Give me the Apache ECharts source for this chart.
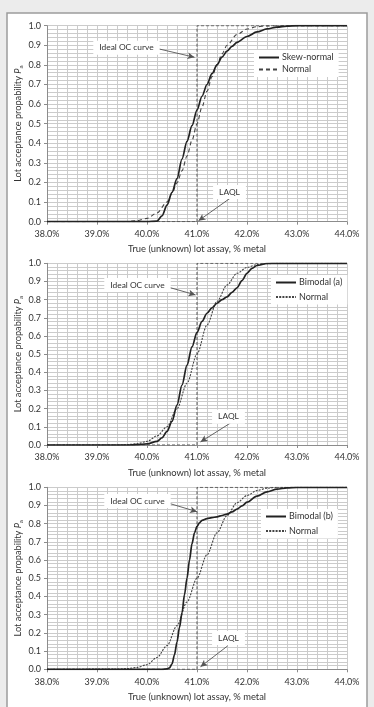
<!DOCTYPE html>
<html>
<head>
<meta charset="utf-8">
<style>
	html, body { margin: 0; padding: 0; background: #ececec; }
	#chart { width: 374px; height: 707px; }
</style>
<script src="https://cdn.jsdelivr.net/npm/echarts@6/dist/echarts.min.js"></script>
</head>
<body>
<div id="chart"></div>
<script type="text/javascript">
	// 横轴刻度 (% metal)
	var assayTicks = [38, 39, 40, 41, 42, 43, 44];
	var probTicks = [0, 0.1, 0.2, 0.3, 0.4, 0.5, 0.6, 0.7, 0.8, 0.9, 1.0];

	// 理想 OC 曲线 (LAQL = 41.0%)
	var idealX = [38, 41, 41, 44];
	var idealP = [0, 0, 1, 1];

	// 面板 1：Skew-normal / Normal
	var skewX = [38.0, 40.0, 40.2, 40.3, 40.4, 40.5, 40.6, 40.7, 40.8, 40.9, 41.0, 41.1, 41.2, 41.3, 41.4, 41.5, 41.6, 41.7, 41.8, 42.0, 42.2, 42.4, 42.6, 42.8, 43.0, 44.0];
	var skewP = [0, 0, 0.003, 0.03, 0.085, 0.15, 0.22, 0.32, 0.41, 0.49, 0.57, 0.64, 0.70, 0.755, 0.80, 0.84, 0.87, 0.895, 0.915, 0.945, 0.968, 0.984, 0.993, 0.998, 1, 1];
	var norm1X = [38.0, 39.6, 39.8, 40.0, 40.2, 40.4, 40.5, 40.6, 40.7, 40.8, 40.9, 41.0, 41.1, 41.2, 41.3, 41.4, 41.5, 41.6, 41.8, 42.0, 42.2, 42.4, 42.6, 44.0];
	var norm1P = [0, 0.001, 0.005, 0.017, 0.045, 0.10, 0.144, 0.198, 0.26, 0.335, 0.415, 0.50, 0.585, 0.665, 0.74, 0.80, 0.856, 0.90, 0.955, 0.983, 0.995, 0.999, 1, 1];

	// 面板 2：Bimodal (a) / Normal
	var bimAX = [38.0, 39.6, 39.8, 40.0, 40.2, 40.3, 40.4, 40.5, 40.6, 40.7, 40.8, 40.9, 41.0, 41.1, 41.2, 41.3, 41.4, 41.5, 41.6, 41.7, 41.8, 41.9, 42.0, 42.1, 42.2, 42.4, 42.6, 44.0];
	var bimAP = [0, 0, 0.002, 0.006, 0.02, 0.04, 0.075, 0.13, 0.22, 0.33, 0.44, 0.54, 0.62, 0.68, 0.725, 0.755, 0.78, 0.80, 0.815, 0.84, 0.865, 0.905, 0.945, 0.972, 0.988, 0.999, 1, 1];
	var norm2X = [38.0, 39.4, 39.6, 39.8, 40.0, 40.2, 40.4, 40.6, 40.8, 41.0, 41.2, 41.4, 41.6, 41.8, 42.0, 42.2, 42.4, 42.6, 44.0];
	var norm2P = [0, 0, 0.002, 0.007, 0.02, 0.05, 0.10, 0.20, 0.34, 0.50, 0.66, 0.79, 0.88, 0.945, 0.977, 0.993, 0.998, 1, 1];

	// 面板 3：Bimodal (b) / Normal
	var bimBX = [38.0, 40.3, 40.4, 40.45, 40.5, 40.55, 40.6, 40.65, 40.7, 40.75, 40.8, 40.85, 40.9, 40.95, 41.0, 41.05, 41.1, 41.2, 41.3, 41.4, 41.5, 41.6, 41.7, 41.8, 41.9, 42.0, 42.2, 42.4, 42.6, 42.8, 43.0, 44.0];
	var bimBP = [0, 0, 0.002, 0.008, 0.03, 0.08, 0.15, 0.23, 0.31, 0.41, 0.50, 0.60, 0.69, 0.75, 0.785, 0.805, 0.818, 0.828, 0.833, 0.838, 0.845, 0.853, 0.865, 0.88, 0.898, 0.918, 0.952, 0.975, 0.99, 0.997, 1, 1];
	var norm3X = [38.0, 39.4, 39.6, 39.8, 40.0, 40.2, 40.4, 40.6, 40.8, 41.0, 41.2, 41.4, 41.6, 41.8, 42.0, 42.2, 42.4, 42.6, 44.0];
	var norm3P = [0, 0.001, 0.004, 0.01, 0.025, 0.065, 0.13, 0.24, 0.37, 0.50, 0.63, 0.75, 0.845, 0.915, 0.955, 0.982, 0.995, 1, 1];

	function zip(xs, ys) {
		return xs.map(function (x, i) { return [x, ys[i]]; });
	}

	var font = 'Lato, "Open Sans", sans-serif';

	// 每个面板的布局与注释
	var panels = [
		{ top: 25.7, height: 196, main: 'Skew-normal', mx: skewX, my: skewP, nx: norm1X, ny: norm1P, dash: [4, 3],
		  legend: { left: 254, top: 50, gap: 3 },
		  ideal: { text: [39.59, 0.888], from: [40.13, 0.888], to: [40.95, 0.839] },
		  laql: { text: [41.65, 0.152], from: [41.67, 0.121], to: [41.03, 0.005] } },
		{ top: 263.3, height: 181.7, main: 'Bimodal (a)', mx: bimAX, my: bimAP, nx: norm2X, ny: norm2P, dash: [2, 1.2],
		  legend: { left: 271, top: 275, gap: 5.5 },
		  ideal: { text: [39.81, 0.88], from: [40.41, 0.87], to: [40.97, 0.826] },
		  laql: { text: [41.63, 0.156], from: [41.67, 0.121], to: [41.07, 0.017] } },
		{ top: 487.3, height: 182, main: 'Bimodal (b)', mx: bimBX, my: bimBP, nx: norm3X, ny: norm3P, dash: [2, 1.2],
		  legend: { left: 261, top: 509, gap: 5.5 },
		  ideal: { text: [39.81, 0.925], from: [40.33, 0.921], to: [41.0, 0.866] },
		  laql: { text: [41.63, 0.172], from: [41.61, 0.128], to: [41.07, 0.014] } }
	];

	var gridLine = { show: true, lineStyle: { color: '#cbcbcb', width: 1 } };

	var option = {
		animation: false,
		backgroundColor: '#ececec',
		graphic: [{
			type: 'rect', z: -10,
			shape: { x: 7, y: 13, width: 360, height: 710 },
			style: { fill: '#ffffff', stroke: '#9c9c9c', lineWidth: 1.5 }
		}],
		grid: [], xAxis: [], yAxis: [], legend: [], series: []
	};

	panels.forEach(function (p, i) {
		option.grid.push({ left: 47, width: 300, top: p.top, height: p.height });
		option.xAxis.push({
			type: 'value', gridIndex: i, min: assayTicks[0], max: assayTicks[assayTicks.length - 1], interval: 1,
			name: 'True (unknown) lot assay, % metal', nameLocation: 'middle', nameGap: 23,
			nameTextStyle: { fontFamily: font, fontSize: 9.4, color: '#333' },
			axisLine: { lineStyle: { color: '#8c8c8c' } },
			axisTick: { show: true, length: 3, lineStyle: { color: '#8c8c8c' } },
			axisLabel: { fontFamily: font, fontSize: 9, color: '#333', margin: 8,
				formatter: function (v) { return v.toFixed(1) + '%'; } },
			splitLine: gridLine,
			minorTick: { show: false, splitNumber: 5 },
			minorSplitLine: gridLine
		});
		option.yAxis.push({
			type: 'value', gridIndex: i, min: probTicks[0], max: probTicks[probTicks.length - 1], interval: 0.1,
			name: 'Lot acceptance propability {i|P}{s|a}', nameLocation: 'middle', nameGap: 23, nameRotate: 90,
			nameMoveOverlap: false,
			nameTextStyle: { fontFamily: font, fontSize: 9.2, color: '#333',
				rich: { i: { fontFamily: font, fontSize: 9.2, fontStyle: 'italic', color: '#333' },
					s: { fontFamily: font, fontSize: 6.2, color: '#333', verticalAlign: 'bottom', padding: [5, 0, 0, 0] } } },
			axisLine: { show: true, lineStyle: { color: '#8c8c8c' } },
			axisTick: { show: true, length: 3, lineStyle: { color: '#8c8c8c' } },
			axisLabel: { fontFamily: font, fontSize: 9, color: '#333', margin: 6,
				formatter: function (v) { return v.toFixed(1); } },
			splitLine: gridLine,
			minorTick: { show: false, splitNumber: 5 },
			minorSplitLine: gridLine
		});

		var normName = 'Normal|' + i;
		option.legend.push({
			orient: 'vertical', left: p.legend.left, top: p.legend.top,
			data: [p.main, normName], itemWidth: 20, itemHeight: 10, itemGap: p.legend.gap,
			backgroundColor: '#ffffff', padding: [3, 5, 3, 4], selectedMode: false,
			itemStyle: { opacity: 0 },
			textStyle: { fontFamily: font, fontSize: 9, color: '#333', padding: [0, 0, 0, -2] },
			formatter: function (name) { return name.split('|')[0]; }
		});

		var noteLabel = { show: true, position: 'inside', fontFamily: font, fontSize: 8.4, color: '#333',
			backgroundColor: '#ffffff', padding: [3, 6] };

		option.series.push({
			type: 'line', name: 'Ideal', xAxisIndex: i, yAxisIndex: i, data: zip(idealX, idealP),
			symbol: 'none', z: 3, lineStyle: { color: '#555', width: 1, type: [3, 2] },
			markLine: {
				silent: true, symbol: ['none', 'arrow'], symbolSize: [5, 7],
				label: { show: false },
				lineStyle: { color: '#555', width: 0.9, type: 'solid' },
				data: [
					[{ coord: p.ideal.from }, { coord: p.ideal.to }],
					[{ coord: p.laql.from }, { coord: p.laql.to }]
				]
			},
			markPoint: {
				silent: true, symbol: 'rect', symbolSize: 1, itemStyle: { color: 'rgba(0,0,0,0)' },
				data: [
					{ coord: p.ideal.text, label: Object.assign({ formatter: 'Ideal OC curve' }, noteLabel) },
					{ coord: p.laql.text, label: Object.assign({ formatter: 'LAQL' }, noteLabel) }
				]
			}
		});
		option.series.push({
			type: 'line', name: normName, xAxisIndex: i, yAxisIndex: i, data: zip(p.nx, p.ny),
			symbol: 'none', smooth: 0.3, smoothMonotone: 'x', z: 4,
			itemStyle: { color: '#444' },
			lineStyle: { color: '#444', width: 1.1, type: p.dash }
		});
		option.series.push({
			type: 'line', name: p.main, xAxisIndex: i, yAxisIndex: i, data: zip(p.mx, p.my),
			symbol: 'none', smooth: 0.3, smoothMonotone: 'x', z: 5,
			itemStyle: { color: '#222' },
			lineStyle: { color: '#222', width: 1.7 }
		});
	});

	var chart = echarts.init(document.getElementById('chart'));
	chart.setOption(option);
</script>
</body>
</html>
